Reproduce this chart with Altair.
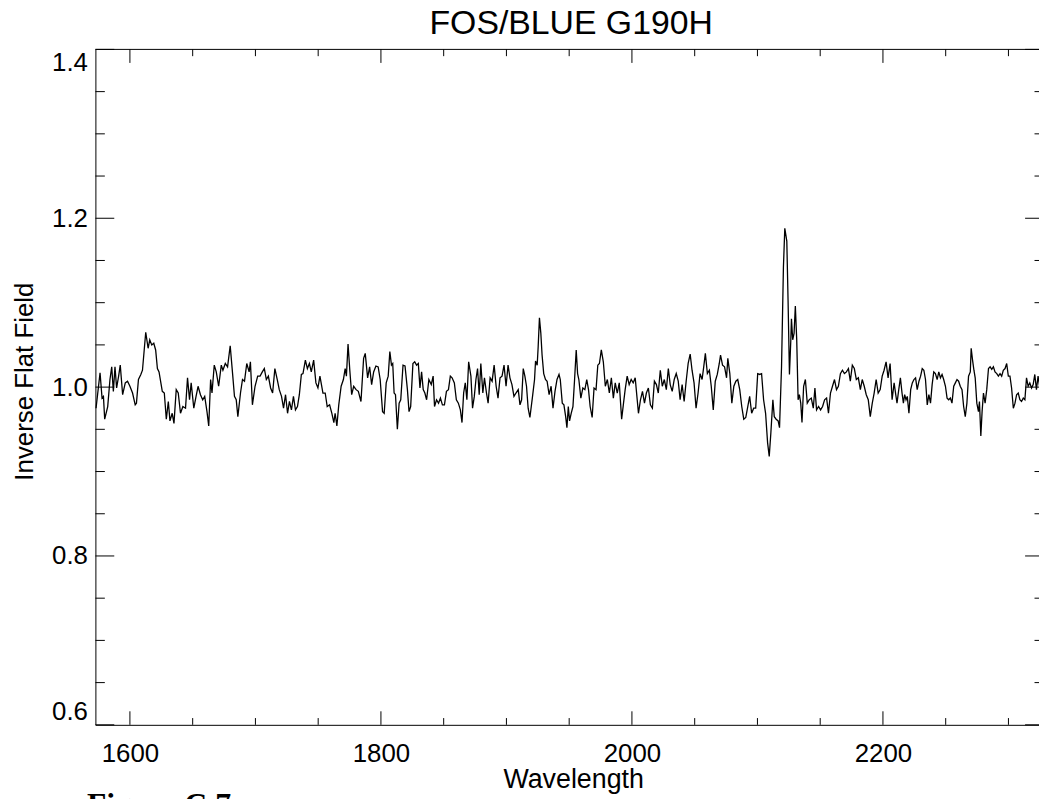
import altair as alt
import pandas as pd

TITLE = "FOS/BLUE G190H"
X_TITLE = "Wavelength"
Y_TITLE = "Inverse Flat Field"
CAPTION = "Figure C.7"

# (wavelength, inverse flat field)
seg_1 = [(1573.0,0.975),(1576.2,1.017),(1577.8,0.987),(1578.9,0.989),(1579.9,0.962),(1582.3,0.977),(1584.1,1.009),(1585.5,1.024),(1586.8,0.995),(1588.1,1.024),(1589.4,0.999),(1591.0,1.013),(1592.3,1.026),(1594.2,0.991),(1596.3,1.005),(1598.1,1.007),(1600.0,1.001),(1602.1,0.993),(1604.2,0.979),(1605.2,0.981),(1606.8,1.009),(1608.7,1.015),(1610.0,1.020),(1612.6,1.065),(1614.5,1.046),(1615.8,1.056),(1617.4,1.050),(1619.0,1.052),(1620.5,1.044),(1621.9,1.022),(1623.2,1.018),(1625.8,0.995),(1627.4,0.993),(1629.0,0.962),(1630.6,0.983),(1631.9,0.960),(1633.7,0.969),(1635.1,0.957),(1636.9,0.997),(1638.5,0.993),(1640.3,0.969),(1642.2,0.977),(1644.3,0.975),(1645.9,1.011),(1647.5,0.985),(1648.8,1.005),(1650.9,0.975),(1652.7,0.989),(1654.3,1.001),(1656.2,0.991),(1658.0,0.985),(1659.6,0.989),(1661.4,0.971),(1662.8,0.954),(1664.3,1.009),(1665.4,0.993),(1667.2,1.026),(1668.8,1.018),(1670.7,1.001),(1672.8,1.026),(1674.1,1.020),(1676.0,1.028),(1677.8,1.024),(1679.9,1.049),(1681.8,1.016),(1683.3,0.989),(1684.7,0.985),(1686.0,0.965),(1688.1,0.993),(1689.7,1.009),(1691.3,1.007),(1693.1,1.028),(1695.0,1.018),(1696.0,1.030),(1697.6,0.979),(1699.7,1.001)]
seg_2 = [(1701.8,1.013),(1703.7,1.013),(1705.5,1.018),(1707.1,1.022),(1708.7,1.009),(1710.3,1.013),(1712.1,0.999),(1713.7,0.993),(1715.5,1.022),(1717.4,1.009),(1719.0,0.997),(1720.8,0.989),(1722.4,0.975),(1724.0,0.991),(1725.6,0.969),(1727.1,0.983),(1728.7,0.973),(1730.3,0.989),(1731.9,0.973),(1733.5,0.977),(1735.0,0.991),(1736.6,1.015),(1737.9,1.016),(1739.8,1.032),(1741.4,1.022),(1743.0,1.028),(1744.5,1.018),(1746.4,1.032),(1748.2,1.005),(1749.8,0.999),(1751.4,1.013),(1753.8,0.993),(1755.6,0.993),(1757.2,0.977),(1759.1,0.979),(1760.9,0.969),(1762.5,0.958),(1763.5,0.969),(1764.9,0.954),(1766.4,0.979),(1768.3,1.001),(1770.1,1.009),(1771.5,1.022),(1772.5,1.013),(1773.8,1.051),(1775.2,1.020),(1776.7,0.991),(1778.3,1.001),(1780.2,0.997),(1782.0,0.995)]
seg_3 = [(1784.1,0.983),(1786.2,1.034),(1787.5,1.040),(1789.4,1.011),(1791.0,1.024),(1792.6,1.003),(1794.2,1.018),(1796.0,1.025),(1797.8,1.024),(1799.4,1.009),(1801.3,0.971),(1802.6,0.969),(1804.2,1.005),(1805.8,1.013),(1807.1,1.042),(1808.4,1.026),(1809.4,1.028),(1810.5,0.993),(1811.6,0.991),(1813.1,0.950),(1814.5,0.981),(1815.8,0.985),(1817.6,1.026),(1819.2,1.025),(1821.1,0.997),(1822.4,0.971),(1823.7,0.977),(1825.5,1.028),(1826.9,1.030),(1828.4,1.026),(1829.8,1.028),(1831.1,0.999),(1832.4,1.018),(1833.7,0.997),(1835.0,0.993),(1836.4,0.985),(1838.2,1.009),(1840.1,1.003),(1841.6,1.013),(1842.7,0.977),(1844.3,0.985),(1845.9,0.981),(1847.4,0.987),(1849.0,0.979),(1850.6,0.979),(1852.2,0.995),(1853.8,0.997),(1855.3,1.013),(1856.7,1.011),(1858.5,1.005),(1860.1,0.985),(1861.7,0.981),(1863.3,0.973),(1864.6,0.958),(1865.9,0.993),(1867.2,1.005),(1868.5,0.985),(1869.9,1.030),(1871.7,1.013),(1873.0,0.975),(1874.4,0.989),(1875.7,1.009),(1877.0,1.022),(1878.3,0.991),(1879.6,1.028),(1881.2,0.993),(1882.5,1.011),(1884.1,0.993),(1885.4,0.981),(1887.0,1.011),(1888.6,1.007),(1890.2,1.026),(1891.8,1.001),(1893.3,0.987),(1894.9,1.011),(1896.5,1.013),(1898.1,1.026),(1899.7,1.001)]
seg_4 = [(1901.3,1.026),(1902.8,1.011),(1904.4,1.003),(1906.0,0.989),(1907.6,0.993),(1909.4,0.997),(1910.8,0.979),(1912.1,0.985),(1913.4,1.022),(1914.7,1.013),(1916.0,1.001),(1917.3,0.975),(1918.7,0.964),(1920.8,0.989),(1922.4,1.009),(1923.2,1.031),(1924.5,1.026),(1925.3,1.048),(1926.3,1.082),(1927.4,1.064),(1928.4,1.038),(1929.7,1.016),(1931.1,1.009),(1932.4,1.007),(1934.0,0.991),(1935.6,1.001),(1937.1,0.975),(1938.7,0.995),(1940.3,1.009),(1941.9,1.015),(1942.9,1.009),(1944.5,0.981),(1945.8,0.979),(1947.2,0.965),(1948.2,0.952),(1949.3,0.977),(1950.3,0.960),(1951.6,0.969),(1953.0,0.977),(1954.3,1.009),(1955.6,1.044),(1956.7,1.016),(1957.7,1.009),(1959.3,0.987),(1960.9,0.999),(1962.5,0.997),(1964.0,1.009),(1965.4,0.997),(1966.7,0.977),(1968.3,0.964),(1969.8,0.999),(1971.4,0.997),(1972.8,1.026),(1974.1,1.028),(1975.6,1.044),(1977.2,1.030),(1978.8,1.001),(1980.4,1.009),(1982.0,0.993),(1983.6,1.011),(1985.2,0.987),(1986.7,1.005),(1988.3,0.993),(1989.9,1.005),(1991.8,0.962),(1993.3,0.981),(1994.6,0.997),(1996.2,1.013),(1997.8,1.003),(1999.4,1.009),(2001.0,1.005),(2002.6,1.011)]
seg_5 = [(2005.2,0.969),(2006.8,0.985),(2008.4,0.995),(2010.0,0.981),(2011.5,0.993),(2013.1,0.999),(2014.7,0.979),(2016.3,0.975),(2017.9,1.007),(2019.5,1.003),(2021.0,0.993),(2022.6,1.020),(2024.2,1.001),(2025.8,1.009),(2027.4,0.997),(2029.0,1.022),(2030.5,1.003),(2032.1,0.995),(2033.7,1.009),(2035.3,1.016),(2036.9,1.007),(2038.4,0.985),(2040.0,1.003),(2041.6,0.983),(2043.2,1.007),(2044.8,1.028),(2046.4,1.039),(2047.9,1.020),(2049.5,1.005),(2051.1,0.975),(2052.7,0.993),(2054.3,1.016),(2055.9,1.009),(2057.2,1.024),(2058.5,1.040),(2060.1,1.016),(2061.7,1.020),(2063.2,1.001),(2064.8,0.973),(2066.4,1.007),(2068.0,1.015),(2069.6,1.028),(2070.6,1.038),(2072.2,1.026),(2073.8,1.024),(2075.4,1.011),(2076.4,1.034),(2078.0,1.016),(2079.6,0.981),(2081.2,1.001),(2082.8,1.007),(2084.3,1.009),(2085.9,0.997),(2087.5,0.977),(2089.1,0.962),(2090.7,0.964),(2092.3,0.977),(2093.8,0.989),(2095.4,0.969),(2097.0,0.975),(2098.6,0.975),(2100.2,1.016),(2101.8,1.015),(2103.3,1.016),(2104.9,0.985),(2106.5,0.969)]
seg_6 = [(2108.1,0.934),(2109.4,0.918),(2110.7,0.946),(2112.3,0.985),(2113.4,0.965),(2114.9,0.962),(2116.5,0.960),(2117.6,0.952),(2119.2,1.024),(2120.7,1.142),(2121.8,1.188),(2123.4,1.173),(2124.4,1.103),(2125.5,1.015),(2126.6,1.056),(2127.1,1.081),(2128.1,1.056),(2129.2,1.064),(2130.2,1.096),(2131.3,1.056),(2132.4,0.985),(2133.4,0.991),(2134.5,0.981),(2135.5,0.958),(2136.8,1.001),(2138.2,1.009),(2139.7,0.981),(2141.3,0.985),(2142.9,0.987),(2144.5,0.975),(2145.8,0.999),(2147.1,0.973),(2148.7,0.977),(2150.3,0.973),(2151.9,0.977),(2153.5,0.985),(2155.1,0.987),(2156.6,0.969),(2158.2,0.993),(2159.8,1.001),(2161.4,1.009),(2163.0,0.997),(2164.5,1.001),(2166.1,1.016),(2167.7,1.020),(2169.3,1.016),(2170.9,1.018),(2172.5,1.022),(2174.0,1.007),(2175.6,1.026),(2177.2,1.022),(2178.8,1.009),(2180.4,1.011),(2182.0,0.997),(2183.5,1.009),(2185.1,1.001),(2186.7,0.991),(2188.3,0.985),(2189.9,0.965),(2191.5,0.981),(2193.0,0.993),(2194.6,1.009),(2196.2,0.993),(2197.8,0.997),(2199.4,1.013),(2200.9,1.020),(2202.5,1.030),(2204.1,1.011),(2205.7,1.028),(2207.3,0.985)]
seg_7 = [(2208.9,1.005),(2210.2,0.991),(2211.2,0.981),(2212.6,0.997),(2213.9,1.011),(2215.2,0.993),(2216.3,0.981),(2217.3,0.991),(2218.4,0.985),(2219.4,0.989),(2220.7,0.969),(2222.1,0.997),(2223.4,1.005),(2224.7,1.009),(2226.0,1.011),(2227.3,0.997),(2228.7,1.007),(2230.0,1.013),(2231.3,1.022),(2232.6,1.020),(2233.9,1.009),(2235.3,0.979),(2236.6,0.991),(2237.9,0.981),(2239.2,1.003),(2240.5,1.018),(2241.8,1.016),(2243.2,1.009),(2244.5,1.018),(2245.8,1.011),(2247.1,1.015),(2248.4,1.009),(2249.8,1.001),(2251.1,0.987),(2252.4,0.985),(2253.7,0.987),(2255.0,0.981),(2256.4,1.001),(2257.7,1.005),(2259.0,1.009),(2260.3,1.007),(2261.6,1.001),(2263.0,0.997),(2264.3,0.977),(2265.6,0.965),(2266.9,0.981),(2268.2,1.013),(2269.6,1.018),(2270.3,1.046),(2271.4,1.032),(2272.5,1.020),(2273.5,1.011),(2274.8,0.981),(2276.1,0.971),(2276.9,0.983),(2278.0,0.942),(2279.0,0.971),(2280.1,0.993),(2281.4,0.981),(2282.7,0.997),(2284.1,1.022),(2285.4,1.024),(2286.7,1.021),(2288.0,1.024),(2289.3,1.018),(2290.7,1.016),(2292.0,1.013),(2293.3,1.016),(2294.6,1.013),(2295.9,1.020),(2297.3,1.022),(2298.6,1.028),(2299.9,1.013),(2301.2,1.013),(2302.5,0.999),(2303.9,0.975),(2305.2,0.981),(2306.5,0.991),(2307.8,0.993),(2309.1,0.985),(2310.4,0.983),(2311.8,0.987),(2313.1,0.985),(2314.4,1.011),(2315.7,1.001),(2317.0,1.005),(2318.4,0.999),(2319.7,1.003),(2321.0,1.015),(2322.3,0.997),(2323.6,1.013),(2325.0,0.999)]

x_major = [1600, 1800, 2000, 2200]
x_minor = [1650, 1700, 1750, 1850, 1900, 1950, 2050, 2100, 2150, 2250, 2300]
y_major = [0.6, 0.8, 1.0, 1.2, 1.4]
y_minor = [0.65, 0.7, 0.75, 0.85, 0.9, 0.95, 1.05, 1.1, 1.15, 1.25, 1.3, 1.35]

X_DOMAIN = [1572.5, 2328.3]
Y_DOMAIN = [0.6, 1.4]
RANGE_W = 955
W, H = 950, 680
FONT = "Liberation Sans"

spec = pd.DataFrame(seg_1 + seg_2 + seg_3 + seg_4 + seg_5 + seg_6 + seg_7,
                    columns=["wavelength", "flux"])

xs = alt.Scale(domain=X_DOMAIN, range=[0, RANGE_W], nice=False, zero=False)
ys = alt.Scale(domain=Y_DOMAIN, nice=False, zero=False)

x_axis = alt.Axis(
    values=x_major, format="d", ticks=False, tickSize=0, grid=False,
    domain=True, domainColor="black", domainWidth=1,
    labelFont=FONT, labelFontSize=26, labelColor="black", labelPadding=16,
    title=X_TITLE, titleFont=FONT, titleFontSize=27, titleFontWeight="normal",
    titleColor="black", titleX=481, titleY=63, titleBaseline="alphabetic",
    titleAlign="center")
y_axis = alt.Axis(
    values=y_major, format=".1f", ticks=False, tickSize=0, grid=False,
    domain=True, domainColor="black", domainWidth=1,
    labelFont=FONT, labelFontSize=26, labelColor="black", labelPadding=8,
    labelFlush=True,
    title=Y_TITLE, titleFont=FONT, titleFontSize=26, titleFontWeight="normal",
    titleColor="black", titleX=-63, titleY=334, titleAngle=270,
    titleBaseline="alphabetic", titleAlign="center")

line = alt.Chart(spec).mark_line(color="black", strokeWidth=1.3).encode(
    x=alt.X("wavelength:Q", scale=xs, axis=x_axis, title=X_TITLE),
    y=alt.Y("flux:Q", scale=ys, axis=y_axis, title=Y_TITLE),
)


def x_ticks(vals, length, top):
    y0, y1 = (0, length) if top else (H, H - length)
    return alt.Chart(pd.DataFrame({"wavelength": vals})).mark_rule(
        color="black", strokeWidth=1).encode(
        x=alt.X("wavelength:Q", scale=xs, axis=x_axis, title=X_TITLE),
        y=alt.value(y0), y2=alt.value(y1))


def y_ticks(vals, length, right):
    x0, x1 = (RANGE_W, RANGE_W - length) if right else (0, length)
    return alt.Chart(pd.DataFrame({"flux": vals})).mark_rule(
        color="black", strokeWidth=1).encode(
        y=alt.Y("flux:Q", scale=ys, axis=y_axis, title=Y_TITLE),
        x=alt.value(x0), x2=alt.value(x1))


top_frame = alt.Chart(pd.DataFrame({"k": [0]})).mark_rule(
    color="black", strokeWidth=1).encode(
    x=alt.value(0), x2=alt.value(RANGE_W), y=alt.value(0))

caption = alt.Chart(pd.DataFrame({"t": [CAPTION]})).mark_text(
    font="Liberation Serif", fontWeight="bold", fontSize=32, align="left",
    baseline="alphabetic", color="black").encode(
    text="t:N", x=alt.value(-8.5), y=alt.value(771))

layers = [line, top_frame]
for top in (False, True):
    layers.append(x_ticks(x_major, 13.6, top))
    layers.append(x_ticks(x_minor, 6.8, top))
for right in (False, True):
    layers.append(y_ticks(y_major, 19, right))
    layers.append(y_ticks(y_minor, 9.5, right))
layers.append(caption)

chart = alt.layer(*layers).properties(
    width=W, height=H,
    title=alt.TitleParams(TITLE, font=FONT, fontSize=34, fontWeight="normal",
                          color="black", anchor="middle", frame="group",
                          offset=8, dx=4),
    padding={"left": 88, "top": 39, "right": 0, "bottom": 72},
    autosize=alt.AutoSizeParams(type="none"),
).configure_view(stroke=None)

chart.save("out.html", embed_options={"renderer": "svg", "actions": False})
